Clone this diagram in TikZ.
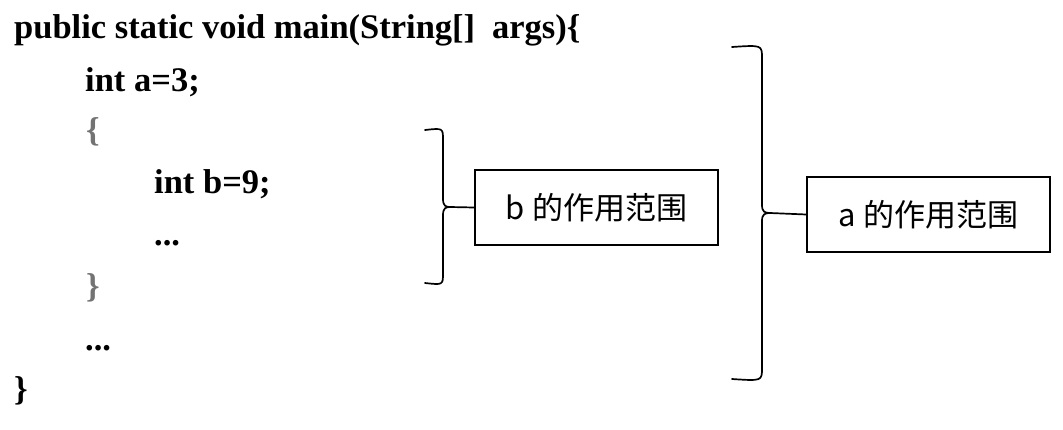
\documentclass[tikz,border=0pt]{standalone}
\usepackage{fontspec}
\setmainfont{Liberation Serif}
\newfontfamily\cjk{Noto Sans CJK SC}
\begin{document}
\begin{tikzpicture}[x=1pt,y=-1pt,
  code/.style={anchor=base west,inner sep=0pt,font=\fontsize{34.5}{38}\selectfont\bfseries},
  graybrace/.style={code,text=black!55},
  scopebox/.style={draw,line width=1.4pt,minimum width=243pt,minimum height=75pt,inner sep=0pt,font=\cjk\fontsize{31}{34}\selectfont},
  brace/.style={line width=1.7pt,line cap=round,line join=round}]
\useasboundingbox (0,0) rectangle (1063,429);
% code lines
\node[code] (l1) at (14,38) {public static void main(String[]\hspace{17pt}args)\{};
\node[code] (l2) at (85,91) {int a=3;};
\node[graybrace] (l3) at (86,141) {\{};
\node[code] (l4) at (154,193) {int b=9;};
\node[code] (l5) at (154,245) {...};
\node[graybrace] (l6) at (86,297) {\}};
\node[code] (l7) at (85,350) {...};
\node[code] (l8) at (14,400) {\}};
% boxes
\node[scopebox] (bb) at (596.5,207.5) {b 的作用范围};
\node[scopebox] (ab) at (928.5,214.5) {a 的作用范围};
% brace for b
\coordinate (bt) at (425,130);
\coordinate (bbot) at (425,283);
\draw[brace] (bt) .. controls (443,128) .. (443,140) -- (443,199)
  .. controls (443,206) and (446,207) .. (450,207) -- (bb.west);
\draw[brace] (bbot) .. controls (443,285) .. (443,273) -- (443,215)
  .. controls (443,208) and (446,207) .. (450,207);
% brace for a
\coordinate (at) at (732,47);
\coordinate (abot) at (732,379);
\draw[brace] (at) .. controls (762,45) .. (762,58) -- (762,205)
  .. controls (762,212) and (765,213) .. (770,213) -- (ab.west);
\draw[brace] (abot) .. controls (762,381) .. (762,368) -- (762,221)
  .. controls (762,214) and (765,213) .. (770,213);
\end{tikzpicture}
\end{document}
